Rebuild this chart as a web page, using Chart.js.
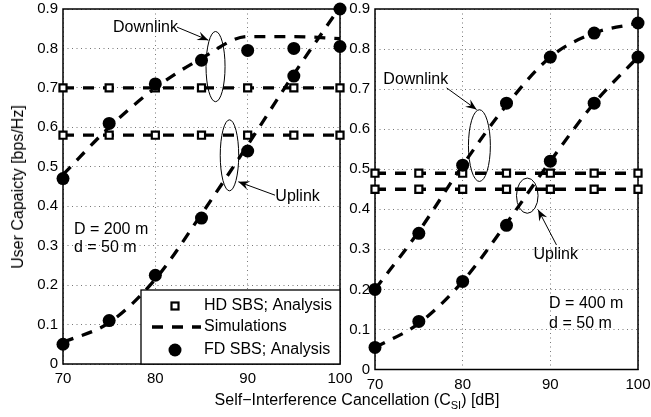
<!DOCTYPE html>
<html>
<head>
<meta charset="utf-8">
<script src="https://cdn.jsdelivr.net/npm/chart.js@4.4.0/dist/chart.umd.min.js"></script>
<style>
html,body{margin:0;padding:0;background:#fff;}
#wrap{position:relative;width:651px;height:417px;overflow:hidden;font-family:'Liberation Sans',Arial,Helvetica,sans-serif;color:#000;}
#wrap canvas{position:absolute;left:0;top:0;}
#xt{position:absolute;left:0;width:714px;top:391px;line-height:18px;text-align:center;font-size:16px;white-space:nowrap;}
#xt sub{font-size:11px;vertical-align:-4px;line-height:0;}
#yt{position:absolute;left:18px;top:186.5px;transform:translate(-50%,-50%) rotate(-90deg);font-size:16px;line-height:18px;white-space:nowrap;}
</style>
</head>
<body>
<div id="wrap">
  <canvas id="c1" width="651" height="417"></canvas>
  <canvas id="c2" width="651" height="417"></canvas>
  <div id="xt">Self&minus;Interference Cancellation (C<sub>SI</sub>) [dB]</div>
  <div id="yt">User Capaicty [bps/Hz]</div>
</div>
<script>
// ---------- data ----------
const cats = [70, 75, 80, 85, 90, 95, 100];
const xTicks = [70, 80, 90, 100];
const xTickLabels = ['70', '80', '90', '100'];
const yTicks = [0, 0.1, 0.2, 0.3, 0.4, 0.5, 0.6, 0.7, 0.8, 0.9];
const yTickLabels = ['0', '0.1', '0.2', '0.3', '0.4', '0.5', '0.6', '0.7', '0.8', '0.9'];
const legendLabels = ['HD SBS; Analysis', 'Simulations', 'FD SBS; Analysis'];

// D = 200 m, d = 50 m
const hdDL200  = [0.70, 0.70, 0.70, 0.70, 0.70, 0.70, 0.70];
const hdUL200  = [0.58, 0.58, 0.58, 0.58, 0.58, 0.58, 0.58];
const simDL200 = [0.48, 0.60, 0.70, 0.775, 0.83, 0.83, 0.825];
const simUL200 = [0.055, 0.105, 0.215, 0.38, 0.555, 0.735, 0.905];
const fdDL200  = [0.47, 0.61, 0.71, 0.77, 0.795, 0.80, 0.805];
const fdUL200  = [0.05, 0.11, 0.225, 0.37, 0.54, 0.73, 0.90];

// D = 400 m, d = 50 m
const hdDL400  = [0.49, 0.49, 0.49, 0.49, 0.49, 0.49, 0.49];
const hdUL400  = [0.45, 0.45, 0.45, 0.45, 0.45, 0.45, 0.45];
const simDL400 = [0.20, 0.345, 0.51, 0.66, 0.78, 0.84, 0.865];
const simUL400 = [0.055, 0.115, 0.22, 0.365, 0.52, 0.665, 0.78];
const fdDL400  = [0.20, 0.34, 0.51, 0.665, 0.78, 0.84, 0.865];
const fdUL400  = [0.055, 0.12, 0.22, 0.36, 0.52, 0.665, 0.78];

// ---------- annotations (data coordinates) ----------
const annot200 = [
  {t: 'ellipse', x: 86.52, y: 0.754, rx: 1.03, ry: 0.089},
  {t: 'ellipse', x: 88.03, y: 0.529, rx: 1.0, ry: 0.09},
  {t: 'arrow', x1: 82.35, y1: 0.854, x2: 85.74, y2: 0.821},
  {t: 'arrow', x1: 92.96, y1: 0.428, x2: 88.99, y2: 0.462},
  {t: 'text', x: 75.42, y: 0.854, s: 'Downlink', a: 'left'},
  {t: 'text', x: 93.0, y: 0.425, s: 'Uplink', a: 'left'},
  {t: 'text', x: 71.19, y: 0.34, s: 'D = 200 m', a: 'left'},
  {t: 'text', x: 71.19, y: 0.295, s: 'd = 50 m', a: 'left'}
];
const annot400 = [
  {t: 'ellipse', x: 81.91, y: 0.559, rx: 1.25, ry: 0.0895},
  {t: 'ellipse', x: 87.37, y: 0.434, rx: 1.23, ry: 0.044},
  {t: 'arrow', x1: 78.17, y1: 0.703, x2: 81.59, y2: 0.649},
  {t: 'arrow', x1: 90.70, y1: 0.311, x2: 88.61, y2: 0.399},
  {t: 'text', x: 70.95, y: 0.724, s: 'Downlink', a: 'left'},
  {t: 'text', x: 90.62, y: 0.286, s: 'Uplink', a: 'center'},
  {t: 'text', x: 89.86, y: 0.164, s: 'D = 400 m', a: 'left'},
  {t: 'text', x: 89.86, y: 0.114, s: 'd = 50 m', a: 'left'}
];

// ---------- styling ----------
const FONT = "'Liberation Sans', Arial, Helvetica, sans-serif";
const DASH = [11, 9];
const LW = 3.3;
const pts = arr => cats.map((c, i) => ({x: c, y: arr[i]}));

const fdStyle = {showLine: false, pointStyle: 'circle', pointRadius: 6.5, pointHoverRadius: 6.5,
  pointBackgroundColor: '#000', pointBorderColor: '#000', pointBorderWidth: 0, clip: false};
const hdStyle = {borderColor: '#000', borderWidth: LW, borderDash: DASH, pointStyle: 'rect',
  pointRadius: 5, pointHoverRadius: 5, pointBorderWidth: 2.2, pointBackgroundColor: '#fff',
  pointBorderColor: '#000', tension: 0, clip: false, fill: false};
const simStyle = {borderColor: '#000', borderWidth: LW, borderDash: DASH, pointRadius: 0,
  cubicInterpolationMode: 'monotone', clip: false, fill: false};

function drawArrowHead(ctx, x1, y1, x2, y2) {
  const ang = Math.atan2(y2 - y1, x2 - x1);
  const L = 11, W = 4.5, N = 7;
  ctx.save();
  ctx.translate(x2, y2);
  ctx.rotate(ang);
  ctx.beginPath();
  ctx.moveTo(0, 0);
  ctx.lineTo(-L, -W);
  ctx.lineTo(-N, 0);
  ctx.lineTo(-L, W);
  ctx.closePath();
  ctx.fill();
  ctx.restore();
}

const decor = {
  id: 'decor',
  beforeDatasetsDraw(chart) {
    const {ctx, chartArea: a} = chart;
    ctx.save();
    ctx.strokeStyle = '#000';
    ctx.lineWidth = 1.5;
    ctx.strokeRect(a.left, a.top, a.right - a.left, a.bottom - a.top);
    ctx.restore();
  },
  afterDatasetsDraw(chart, args, opts) {
    const {ctx, chartArea: a} = chart;
    const sx = chart.scales.x, sy = chart.scales.y;
    const X = v => sx.getPixelForValue(v), Y = v => sy.getPixelForValue(v);
    ctx.save();
    ctx.fillStyle = '#000';
    ctx.strokeStyle = '#000';
    ctx.setLineDash([]);
    ctx.font = '16px ' + FONT;
    ctx.textBaseline = 'middle';
    for (const it of (opts.items || [])) {
      if (it.t === 'ellipse') {
        const rx = Math.abs(X(it.x + it.rx) - X(it.x));
        const ry = Math.abs(Y(it.y + it.ry) - Y(it.y));
        ctx.lineWidth = 1;
        ctx.beginPath();
        ctx.ellipse(X(it.x), Y(it.y), rx, ry, 0, 0, Math.PI * 2);
        ctx.stroke();
      } else if (it.t === 'arrow') {
        const x1 = X(it.x1), y1 = Y(it.y1), x2 = X(it.x2), y2 = Y(it.y2);
        ctx.lineWidth = 1;
        ctx.beginPath();
        ctx.moveTo(x1, y1);
        ctx.lineTo(x2, y2);
        ctx.stroke();
        drawArrowHead(ctx, x1, y1, x2, y2);
      } else if (it.t === 'text') {
        ctx.textAlign = it.a;
        ctx.fillText(it.s, X(it.x), Y(it.y));
      }
    }
    if (opts.legend) {
      const w = 199, h = 74;
      const bx = a.right - w, by = a.bottom - h;
      ctx.fillStyle = '#fff';
      ctx.fillRect(bx, by, w, h);
      ctx.fillStyle = '#000';
      ctx.lineWidth = 1.3;
      ctx.strokeRect(bx, by, w, h);
      // square marker
      ctx.lineWidth = 2.2;
      ctx.fillStyle = '#fff';
      ctx.fillRect(bx + 30.5, by + 12.5, 7, 7);
      ctx.strokeRect(bx + 30.5, by + 12.5, 7, 7);
      ctx.fillStyle = '#000';
      // dashed line
      ctx.lineWidth = LW;
      ctx.setLineDash(DASH);
      ctx.beginPath();
      ctx.moveTo(bx + 11, by + 37);
      ctx.lineTo(bx + 60, by + 37);
      ctx.stroke();
      ctx.setLineDash([]);
      // circle marker
      ctx.beginPath();
      ctx.arc(bx + 34, by + 60, 6.5, 0, Math.PI * 2);
      ctx.fill();
      ctx.textAlign = 'left';
      ctx.fillText(legendLabels[0], bx + 63, by + 16);
      ctx.fillText(legendLabels[1], bx + 63, by + 37);
      ctx.fillText(legendLabels[2], bx + 63, by + 60);
    }
    ctx.restore();
  }
};

function makeChart(id, sets, layoutPad, xPad, items, legend) {
  const ctx = document.getElementById(id).getContext('2d');
  return new Chart(ctx, {
    type: 'line',
    data: {
      datasets: [
        Object.assign({label: 'FD DL', data: pts(sets.fdDL)}, fdStyle),
        Object.assign({label: 'FD UL', data: pts(sets.fdUL)}, fdStyle),
        Object.assign({label: 'HD DL', data: pts(sets.hdDL)}, hdStyle),
        Object.assign({label: 'HD UL', data: pts(sets.hdUL)}, hdStyle),
        Object.assign({label: 'Sim DL', data: pts(sets.simDL)}, simStyle),
        Object.assign({label: 'Sim UL', data: pts(sets.simUL)}, simStyle)
      ]
    },
    options: {
      responsive: false,
      animation: false,
      devicePixelRatio: 1,
      events: [],
      layout: {padding: layoutPad},
      plugins: {
        legend: {display: false},
        tooltip: {enabled: false},
        title: {display: false},
        decor: {items: items, legend: legend}
      },
      scales: {
        x: {
          type: 'linear', min: 70, max: 100,
          afterBuildTicks: s => { s.ticks = xTicks.map(v => ({value: v})); },
          afterFit: s => { s.height = 40; s.paddingLeft = 0; s.paddingRight = 0; s.paddingTop = 0; s.paddingBottom = 0; },
          ticks: {color: '#000', font: {family: FONT, size: 15}, padding: xPad, maxRotation: 0, autoSkip: false,
                  callback: (v, i) => xTickLabels[i]},
          grid: {color: '#777', lineWidth: 1, drawTicks: false},
          border: {display: false, dash: [1, 3.5]}
        },
        y: {
          type: 'linear', min: 0, max: 0.9,
          afterBuildTicks: s => { s.ticks = yTicks.map(v => ({value: v})); },
          afterFit: s => { s.width = 45; s.paddingLeft = 0; s.paddingRight = 0; s.paddingTop = 0; s.paddingBottom = 0; },
          ticks: {color: '#000', font: {family: FONT, size: 15}, padding: 5, autoSkip: false,
                  callback: (v, i) => yTickLabels[i]},
          grid: {color: '#777', lineWidth: 1, drawTicks: false},
          border: {display: false, dash: [1, 3.5]}
        }
      }
    },
    plugins: [decor]
  });
}

makeChart('c1',
  {fdDL: fdDL200, fdUL: fdUL200, hdDL: hdDL200, hdUL: hdUL200, simDL: simDL200, simUL: simUL200},
  {left: 18, right: 311, top: 9, bottom: 13}, 6, annot200, true);

makeChart('c2',
  {fdDL: fdDL400, fdUL: fdUL400, hdDL: hdDL400, hdUL: hdUL400, simDL: simDL400, simUL: simUL400},
  {left: 330, right: 13, top: 9, bottom: 7.5}, 6, annot400, false);
</script>
</body>
</html>
